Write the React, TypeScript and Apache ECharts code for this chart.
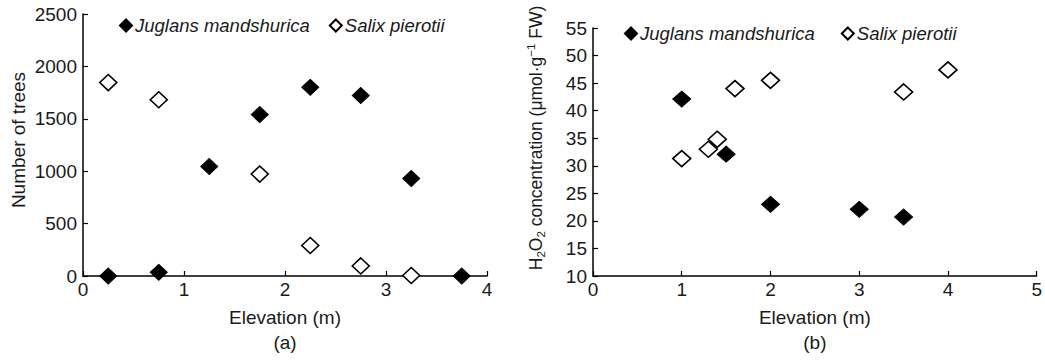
import React, { useEffect, useRef } from "react";
import * as echarts from "echarts";

const juglansA: [number, number][] = [
  [0.25, 0], [0.75, 35], [1.25, 1045], [1.75, 1540], [2.25, 1800], [2.75, 1722], [3.25, 930], [3.75, 0],
];
const salixA: [number, number][] = [
  [0.25, 1846], [0.75, 1682], [1.75, 973], [2.25, 291], [2.75, 96], [3.25, 5],
];
const juglansB: [number, number][] = [
  [1, 42.1], [1.5, 32.1], [2, 23.0], [3, 22.1], [3.5, 20.7],
];
const salixB: [number, number][] = [
  [1, 31.3], [1.3, 33.0], [1.4, 34.8], [1.6, 44.0], [2, 45.5], [3.5, 43.4], [4, 47.4],
];

const FONT = "'Liberation Sans', Arial, sans-serif";
const TXT = "#1a1a1a";
const FS = 19;

export default function App() {
  const ref = useRef<HTMLDivElement>(null);
  useEffect(() => {
    if (!ref.current) return;
    const chart = echarts.init(ref.current, null, { renderer: "svg" });
    const axisCommon = {
      axisLine: { show: true, onZero: false, lineStyle: { color: "#000", width: 1.5 } },
      axisTick: { show: true, inside: true, length: 5, lineStyle: { color: "#000", width: 1.2 } },
      splitLine: { show: false },
      axisLabel: { color: TXT, fontSize: FS, fontFamily: FONT, formatter: (v: number) => String(v) },
    };
    const xName = (tag: string) => ({
      name: "Elevation (m)\n" + tag,
      nameLocation: "middle" as const,
      nameGap: 29,
      nameTextStyle: { color: TXT, fontSize: FS, fontFamily: FONT, lineHeight: 25 },
    });
    const filled = { color: "#000", borderColor: "#000", borderWidth: 1, opacity: 1 };
    const open = { color: "#fff", borderColor: "#000", borderWidth: 1.6, opacity: 1 };
    const legendText = { fontStyle: "italic", fontSize: 18.5, color: TXT, fontFamily: FONT, padding: [0, 0, 0, -2] };
    chart.setOption({
      animation: false,
      textStyle: { fontFamily: FONT },
      grid: [
        { left: 83, top: 14, width: 404, height: 269 },
        { left: 593, top: 28, width: 445, height: 256 },
      ],
      xAxis: [
        { type: "value", gridIndex: 0, min: 0, max: 4, interval: 1, ...axisCommon,
          axisLabel: { ...axisCommon.axisLabel, margin: 4 }, ...xName("(a)") },
        { type: "value", gridIndex: 1, min: 0, max: 5, interval: 1, ...axisCommon,
          axisLabel: { ...axisCommon.axisLabel, margin: 4 }, ...xName("(b)") },
      ],
      yAxis: [
        { type: "value", gridIndex: 0, min: 0, max: 2500, interval: 500, ...axisCommon,
          axisLabel: { ...axisCommon.axisLabel, margin: 6 } },
        { type: "value", gridIndex: 1, min: 10, max: 55, interval: 5, ...axisCommon,
          axisLabel: { ...axisCommon.axisLabel, margin: 6 } },
      ],
      legend: [
        {
          left: 114, top: 11, itemWidth: 12, itemHeight: 12, itemGap: 19,
          data: [{ name: "Juglans mandshurica", icon: "diamond" }, { name: "Salix pierotii", icon: "diamond" }],
          textStyle: legendText,
          selectedMode: false,
        },
        {
          left: 619, top: 19, itemWidth: 12, itemHeight: 12, itemGap: 26,
          data: [{ name: "Juglans mandshurica", icon: "diamond" }, { name: "Salix pierotii", icon: "diamond" }],
          textStyle: legendText,
          selectedMode: false,
        },
      ],
      series: [
        { name: "Salix pierotii", type: "scatter", xAxisIndex: 0, yAxisIndex: 0, data: salixA,
          symbol: "diamond", symbolSize: [17, 16], itemStyle: open },
        { name: "Juglans mandshurica", type: "scatter", xAxisIndex: 0, yAxisIndex: 0, data: juglansA,
          symbol: "diamond", symbolSize: [17, 16], itemStyle: filled, z: 3 },
        { name: "Salix pierotii", type: "scatter", xAxisIndex: 1, yAxisIndex: 1, data: salixB,
          symbol: "diamond", symbolSize: [18, 16], itemStyle: open },
        { name: "Juglans mandshurica", type: "scatter", xAxisIndex: 1, yAxisIndex: 1, data: juglansB,
          symbol: "diamond", symbolSize: [18, 16], itemStyle: filled, z: 3 },
      ],
      graphic: [
        {
          type: "text", x: 18, y: 140, rotation: Math.PI / 2,
          style: { text: "Number of trees", fill: TXT, fontSize: FS, fontFamily: FONT,
            textAlign: "center", textVerticalAlign: "middle" },
        },
        {
          type: "text", x: 536, y: 138, rotation: Math.PI / 2,
          style: {
            text: "H{sub|2}O{sub|2} concentration (μmol·g{sup|−1} FW)",
            fill: TXT, fontSize: 17.5, fontFamily: FONT, lineHeight: 22,
            textAlign: "center", textVerticalAlign: "middle",
            rich: {
              sub: { fontSize: 11.5, fontFamily: FONT, fill: TXT, verticalAlign: "bottom", lineHeight: 22 },
              sup: { fontSize: 11.5, fontFamily: FONT, fill: TXT, verticalAlign: "top", lineHeight: 22 },
            },
          },
        },
      ],
    });
    return () => chart.dispose();
  }, []);
  return (
    <div
      ref={ref}
      style={{ position: "fixed", left: 0, top: 0, width: 1045, height: 360, background: "#fff" }}
    />
  );
}
